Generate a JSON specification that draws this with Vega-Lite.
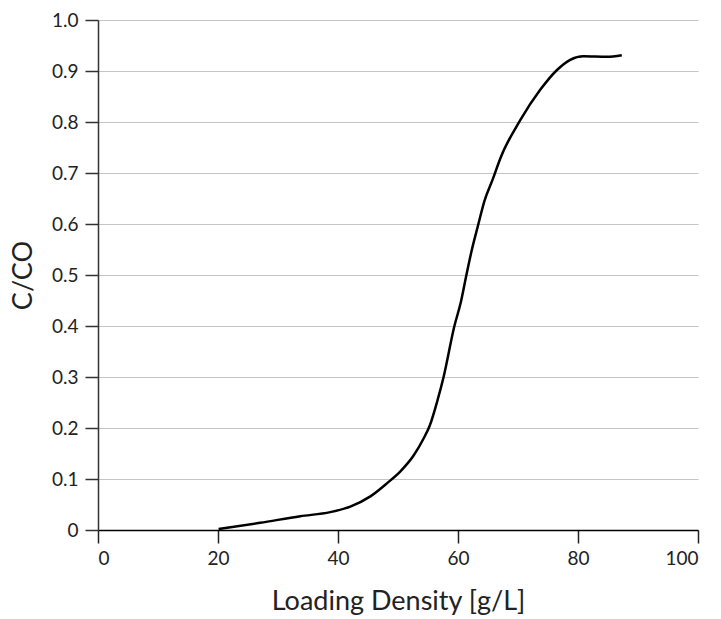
{
  "$schema": "https://vega.github.io/schema/vega-lite/v6.json",
  "width": 600,
  "height": 510,
  "autosize": "none",
  "padding": {"left": 98, "top": 20, "right": 23, "bottom": 89},
  "background": "white",
  "config": {
    "view": {"stroke": null},
    "font": "Lato",
    "axis": {"labelFont": "Lato", "titleFont": "Lato", "labelColor": "#222", "titleColor": "#222", "titleFontWeight": "normal"}
  },
  "data": {
    "values": [
      {"x": 20.1, "y": 0.002},
      {"x": 27, "y": 0.014},
      {"x": 33.7, "y": 0.027},
      {"x": 38.7, "y": 0.035},
      {"x": 42.05, "y": 0.046},
      {"x": 45.4, "y": 0.066},
      {"x": 48.2, "y": 0.092},
      {"x": 50.4, "y": 0.115},
      {"x": 52.6, "y": 0.146},
      {"x": 54.2, "y": 0.178},
      {"x": 55.3, "y": 0.205},
      {"x": 56.6, "y": 0.255},
      {"x": 57.6, "y": 0.3},
      {"x": 59.4, "y": 0.4},
      {"x": 60.5, "y": 0.448},
      {"x": 61.4, "y": 0.5},
      {"x": 62.3, "y": 0.549},
      {"x": 63.4, "y": 0.6},
      {"x": 64.4, "y": 0.645},
      {"x": 65.8, "y": 0.688},
      {"x": 67.1, "y": 0.73},
      {"x": 70.4, "y": 0.804},
      {"x": 73.7, "y": 0.863},
      {"x": 76.5, "y": 0.902},
      {"x": 78.7, "y": 0.922},
      {"x": 80.9, "y": 0.929},
      {"x": 84.8, "y": 0.928},
      {"x": 87.3, "y": 0.931}
    ]
  },
  "mark": {"type": "line", "color": "black", "strokeWidth": 2.5, "interpolate": "monotone"},
  "encoding": {
    "x": {
      "field": "x", "type": "quantitative",
      "scale": {"domain": [0, 100], "nice": false},
      "axis": {
        "title": "Loading Density [g/L]", "titleFontSize": 27, "titlePadding": 20,
        "values": [0, 20, 40, 60, 80, 100],
        "grid": false, "domainColor": "black", "domainWidth": 1.5,
        "tickColor": "#222", "tickWidth": 1.5, "tickSize": 13,
        "labelFontSize": 19, "labelPadding": 6
      }
    },
    "y": {
      "field": "y", "type": "quantitative",
      "scale": {"domain": [0, 1], "nice": false},
      "axis": {
        "title": "C/CO", "titleFontSize": 27, "titlePadding": 14,
        "values": [0, 0.1, 0.2, 0.3, 0.4, 0.5, 0.6, 0.7, 0.8, 0.9, 1.0],
        "labelExpr": "datum.value == 0 ? '0' : format(datum.value, '.1f')",
        "grid": true, "gridColor": "#c4c4c4", "gridWidth": 1,
        "domainColor": "#333", "domainWidth": 1.5,
        "tickColor": "#333", "tickWidth": 1.5, "tickSize": 13,
        "labelFontSize": 19, "labelPadding": 7
      }
    }
  }
}
